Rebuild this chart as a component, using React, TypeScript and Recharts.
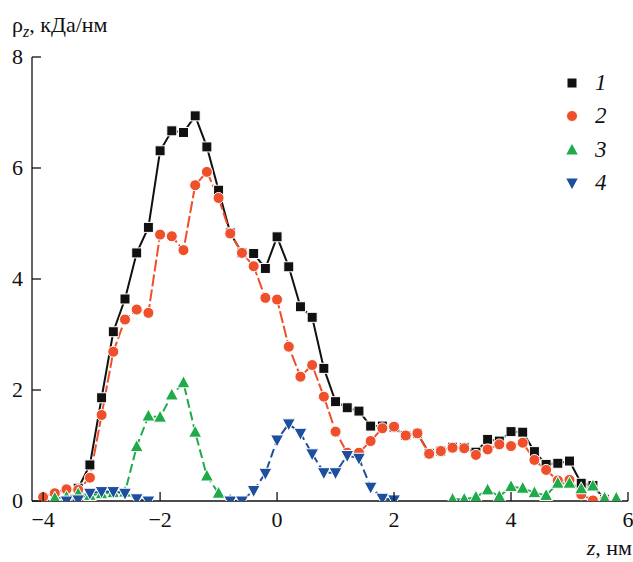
import React from 'react';
import { LineChart, Line, XAxis, YAxis, Legend, Label } from 'recharts';

// density profiles, nm vs kDa/nm
const z1 = [-3.4, -3.2, -3.0, -2.8, -2.6, -2.4, -2.2, -2.0, -1.8, -1.6, -1.4, -1.2, -1.0, -0.8, -0.6, -0.4, -0.2, 0, 0.2, 0.4, 0.6, 0.8, 1.0, 1.2, 1.4, 1.6, 1.8, 2.0, 2.2, 2.4, 2.6, 2.8, 3.0, 3.2, 3.4, 3.6, 3.8, 4.0, 4.2, 4.4, 4.6, 4.8, 5.0, 5.2, 5.4, 5.6];
const rho1 = [0.23, 0.65, 1.86, 3.05, 3.64, 4.47, 4.93, 6.31, 6.67, 6.64, 6.94, 6.38, 5.6, 4.83, 4.47, 4.46, 4.19, 4.76, 4.22, 3.5, 3.31, 2.39, 1.79, 1.68, 1.62, 1.35, 1.35, 1.33, 1.18, 1.22, 0.86, 0.9, 0.97, 0.96, 0.88, 1.11, 1.08, 1.25, 1.24, 0.89, 0.66, 0.68, 0.72, 0.32, 0.28, 0.03];

const z2 = [-4.0, -3.8, -3.6, -3.4, -3.2, -3.0, -2.8, -2.6, -2.4, -2.2, -2.0, -1.8, -1.6, -1.4, -1.2, -1.0, -0.8, -0.6, -0.4, -0.2, 0, 0.2, 0.4, 0.6, 0.8, 1.0, 1.2, 1.4, 1.6, 1.8, 2.0, 2.2, 2.4, 2.6, 2.8, 3.0, 3.2, 3.4, 3.6, 3.8, 4.0, 4.2, 4.4, 4.6, 4.8, 5.0, 5.2, 5.4, 5.6];
const rho2 = [0.07, 0.14, 0.21, 0.2, 0.42, 1.55, 2.69, 3.27, 3.45, 3.39, 4.8, 4.77, 4.52, 5.69, 5.93, 5.46, 4.82, 4.47, 4.23, 3.66, 3.63, 2.78, 2.24, 2.45, 1.88, 1.25, 0.87, 0.87, 1.08, 1.31, 1.34, 1.18, 1.22, 0.85, 0.9, 0.96, 0.95, 0.83, 0.93, 1.02, 0.99, 1.05, 0.74, 0.56, 0.37, 0.38, 0.12, 0.01, 0.02];

const z3 = [-3.8, -3.6, -3.4, -3.2, -3.0, -2.8, -2.6, -2.4, -2.2, -2.0, -1.8, -1.6, -1.4, -1.2, -1.0, -0.8, -0.6, 2.8, 3.0, 3.2, 3.4, 3.6, 3.8, 4.0, 4.2, 4.4, 4.6, 4.8, 5.0, 5.2, 5.4, 5.6, 5.8];
const rho3 = [0.05, 0.07, 0.13, 0.1, 0.13, 0.15, 0.16, 0.98, 1.53, 1.51, 1.91, 2.13, 1.24, 0.45, 0.14, 0.02, null, null, 0.03, 0.03, 0.07, 0.2, 0.08, 0.26, 0.23, 0.15, 0.1, 0.32, 0.32, 0.22, 0.27, 0.05, 0.05];

const z4 = [-3.6, -3.4, -3.2, -3.0, -2.8, -2.6, -2.4, -2.2, -2.0, -1.0, -0.8, -0.6, -0.4, -0.2, 0, 0.2, 0.4, 0.6, 0.8, 1.0, 1.2, 1.4, 1.6, 1.8, 2.0];
const rho4 = [0.0, 0.02, 0.14, 0.17, 0.17, 0.14, 0.04, 0, null, null, 0, 0, 0.19, 0.5, 1.1, 1.39, 1.22, 0.85, 0.51, 0.51, 0.82, 0.77, 0.25, 0.05, 0.02];

const xTicks = [-4, -2, 0, 2, 4, 6];
const yTicks = [0, 2, 4, 6, 8];
const seriesNames = ['1', '2', '3', '4'];

const toRows = (zs: number[], vs: (number | null)[]) => zs.map((z, i) => ({ z, v: vs[i] }));

const BLACK = '#111111';
const RED = '#ef4f2a';
const GREEN = '#1fab4a';
const BLUE = '#1d4f9e';
const FONT = "'Times New Roman', 'Liberation Serif', 'DejaVu Serif', serif";
const txt = { fontFamily: FONT, fontSize: 22 };

type Shape = 'square' | 'circle' | 'up' | 'down';

function Marker({ cx, cy, shape, color }: { cx: number; cy: number; shape: Shape; color: string }) {
  if (shape === 'square') {
    return <rect x={cx - 5} y={cy - 5} width={10} height={10} fill={color} stroke="#fff" strokeWidth={1} />;
  }
  if (shape === 'circle') {
    return <circle cx={cx} cy={cy} r={5.5} fill={color} stroke="#fff" strokeWidth={1} />;
  }
  if (shape === 'up') {
    return <polygon points={`${cx},${cy - 7} ${cx - 6.5},${cy + 5} ${cx + 6.5},${cy + 5}`} fill={color} stroke="#fff" strokeWidth={1} />;
  }
  return <polygon points={`${cx},${cy + 7} ${cx - 6.5},${cy - 5} ${cx + 6.5},${cy - 5}`} fill={color} stroke="#fff" strokeWidth={1} />;
}

const dotFor = (shape: Shape, color: string) => (p: any) => {
  if (p.cx == null || p.cy == null || p.value == null || p.payload?.v == null) return <g key={`e${p.index}`} />;
  return (
    <g key={`d${p.index}`}>
      <Marker cx={p.cx} cy={p.cy} shape={shape} color={color} />
    </g>
  );
};

const fmt = (v: number) => (v < 0 ? `\u2212${Math.abs(v)}` : `${v}`);

function XTick(props: any) {
  const { x, y, payload } = props;
  return (
    <g>
      <line x1={x} y1={y} x2={x} y2={y - 9} stroke={BLACK} strokeWidth={1.3} />
      <text x={x} y={y + 26} textAnchor="middle" fill={BLACK} style={txt}>
        {fmt(payload.value)}
      </text>
    </g>
  );
}

function YTick(props: any) {
  const { x, y, payload } = props;
  return (
    <g>
      <line x1={x} y1={y} x2={x + 9} y2={y} stroke={BLACK} strokeWidth={1.3} />
      <text x={x - 9} y={y + 7} textAnchor="end" fill={BLACK} style={txt}>
        {payload.value}
      </text>
    </g>
  );
}

const legendItems: { shape: Shape; color: string }[] = [
  { shape: 'square', color: BLACK },
  { shape: 'circle', color: RED },
  { shape: 'up', color: GREEN },
  { shape: 'down', color: BLUE },
];

function LegendBox() {
  return (
    <div style={{ display: 'flex', flexDirection: 'column', gap: 0 }}>
      {seriesNames.map((name, i) => (
        <div key={name} style={{ display: 'flex', alignItems: 'center', height: 33.5 }}>
          <svg width={16} height={16}>
            <Marker cx={8} cy={8} shape={legendItems[i].shape} color={legendItems[i].color} />
          </svg>
          <span style={{ marginLeft: 15, fontFamily: FONT, fontStyle: 'italic', fontSize: 23, color: BLACK }}>{name}</span>
        </div>
      ))}
    </div>
  );
}

export default function App() {
  return (
    <div style={{ position: 'absolute', left: 0, top: 0, width: 633, height: 562, background: '#fff', fontFamily: FONT }}>
      <LineChart width={633} height={562} margin={{ top: 57, right: 5, bottom: 31, left: 2 }}>
        <XAxis
          dataKey="z"
          type="number"
          domain={[-4.19, 6]}
          ticks={xTicks}
          allowDataOverflow
          height={30}
          tickSize={0}
          tickMargin={0}
          tick={<XTick />}
          axisLine={{ stroke: BLACK, strokeWidth: 1.3 }}
          interval={0}
        >
          <Label
            content={() => (
              <text x={632} y={555} textAnchor="end" fill={BLACK} style={txt}>
                <tspan fontStyle="italic">z</tspan>, нм
              </text>
            )}
          />
        </XAxis>
        <YAxis
          type="number"
          domain={[0, 8]}
          ticks={yTicks}
          allowDataOverflow
          width={30}
          tickSize={0}
          tickMargin={0}
          tick={<YTick />}
          axisLine={{ stroke: BLACK, strokeWidth: 1.3 }}
          interval={0}
        >
          <Label
            content={() => (
              <text x={12} y={32} fill={BLACK} style={txt}>
                ρ
                <tspan fontStyle="italic" style={{ fontSize: 16 }} dy={5}>z</tspan>
                <tspan dy={-5}>, кДа/нм</tspan>
              </text>
            )}
          />
        </YAxis>
        <Line data={toRows(z1, rho1)} dataKey="v" stroke={BLACK} strokeWidth={2} dot={dotFor('square', BLACK)} activeDot={false} isAnimationActive={false} />
        <Line data={toRows(z2, rho2)} dataKey="v" stroke={RED} strokeWidth={2} strokeDasharray="12 3" dot={dotFor('circle', RED)} activeDot={false} isAnimationActive={false} />
        <Line data={toRows(z3, rho3)} dataKey="v" stroke={GREEN} strokeWidth={2} strokeDasharray="9 4" dot={dotFor('up', GREEN)} activeDot={false} isAnimationActive={false} />
        <Line data={toRows(z4, rho4)} dataKey="v" stroke={BLUE} strokeWidth={2} strokeDasharray="9 4" dot={dotFor('down', BLUE)} activeDot={false} isAnimationActive={false} />
        <Legend
          layout="vertical"
          align="center"
          verticalAlign="middle"
          wrapperStyle={{ left: 564, top: 66, width: 60, height: 140 }}
          content={() => <LegendBox />}
        />
      </LineChart>
    </div>
  );
}
